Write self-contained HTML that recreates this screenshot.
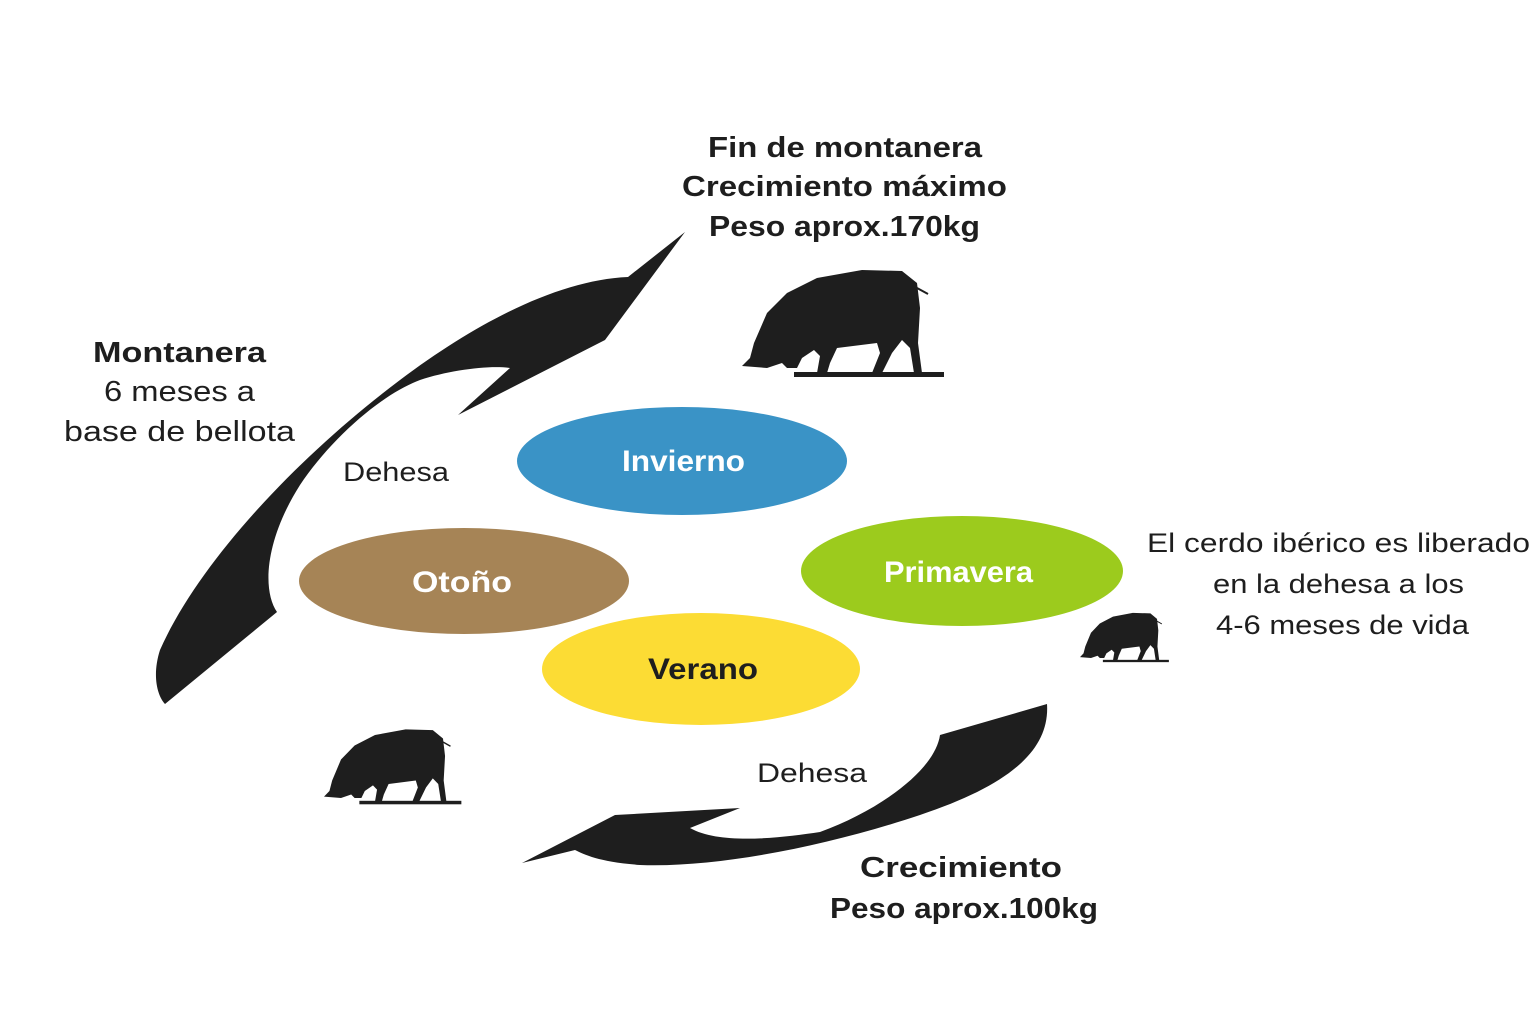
<!DOCTYPE html>
<html><head><meta charset="utf-8"><style>
html,body{margin:0;padding:0;background:#fff;}
svg{display:block;}
text{font-family:"Liberation Sans","DejaVu Sans",sans-serif;fill:#1e1e1e;}
.b{font-weight:bold;}
</style></head><body>
<svg width="1536" height="1024" viewBox="0 0 1536 1024" xmlns="http://www.w3.org/2000/svg">
<defs>
<g id="pig">
<path d="M0,98 L8,90 L12,75 L25,45 L45,25 L75,10 L120,2 L160,3 L175,15 L178,40 L176,75 L180,105 L172,105 L168,80 L160,72 L150,85 L140,105 L130,105 L138,85 L135,75 L95,80 L88,95 L85,105 L75,105 L78,88 L72,82 L60,90 L55,100 L45,100 L40,95 L25,100 Z" fill="#1e1e1e"/>
<rect x="52" y="104" width="150" height="5" fill="#1e1e1e"/>
<path d="M175,20 L186,26" stroke="#1e1e1e" stroke-width="2" fill="none"/>
</g>
</defs>
<path d="M685,232 L628,277 C560,280 480,320 400,380 C300,455 200,560 160,650 C152,675 157,695 165,704 L277,612 C262,590 265,540 300,485 C330,440 380,395 420,380 C450,370 490,365 510,368 L458,415 L605,340 Z" fill="#1e1e1e"/>
<path d="M1047,704 C1050,750 1010,785 920,815 C830,845 720,868 640,865 C600,862 585,855 575,850 L522,863 L615,815 L740,808 L690,828 C720,845 780,838 820,832 C880,810 935,770 940,735 Z" fill="#1e1e1e"/>
<ellipse cx="682" cy="461" rx="165" ry="54" fill="#3a93c6"/>
<ellipse cx="464" cy="581" rx="165" ry="53" fill="#a68456"/>
<ellipse cx="962" cy="571" rx="161" ry="55" fill="#9ccb1d"/>
<ellipse cx="701" cy="669" rx="159" ry="56" fill="#fcdc34"/>
<g lengthAdjust="spacingAndGlyphs">
<text x="622" y="471" textLength="123" lengthAdjust="spacingAndGlyphs" class="b" font-size="30" style="fill:#fff">Invierno</text>
<text x="412" y="592" textLength="100" lengthAdjust="spacingAndGlyphs" class="b" font-size="30" style="fill:#fff">Otoño</text>
<text x="884" y="582" textLength="149" lengthAdjust="spacingAndGlyphs" class="b" font-size="30" style="fill:#fff">Primavera</text>
<text x="648" y="679" textLength="110" lengthAdjust="spacingAndGlyphs" class="b" font-size="30">Verano</text>
</g>
<use href="#pig" transform="translate(742,268)"/>
<use href="#pig" transform="translate(324,728) scale(0.68,0.7)"/>
<use href="#pig" transform="translate(1080,612) scale(0.44,0.46)"/>
<g font-size="29">
<text x="708" y="157" textLength="274" lengthAdjust="spacingAndGlyphs" class="b">Fin de montanera</text>
<text x="682" y="196" textLength="325" lengthAdjust="spacingAndGlyphs" class="b">Crecimiento máximo</text>
<text x="709" y="236" textLength="271" lengthAdjust="spacingAndGlyphs" class="b">Peso aprox.170kg</text>
<text x="93" y="362" textLength="173" lengthAdjust="spacingAndGlyphs" class="b">Montanera</text>
<text x="104" y="401" textLength="151" lengthAdjust="spacingAndGlyphs">6 meses a</text>
<text x="64" y="441" textLength="231" lengthAdjust="spacingAndGlyphs">base de bellota</text>
<text x="343" y="481" textLength="106" lengthAdjust="spacingAndGlyphs" font-size="27">Dehesa</text>
<text x="757" y="782" textLength="110" lengthAdjust="spacingAndGlyphs" font-size="27">Dehesa</text>
<text x="1147" y="552" textLength="383" lengthAdjust="spacingAndGlyphs" font-size="27">El cerdo ibérico es liberado</text>
<text x="1213" y="593" textLength="251" lengthAdjust="spacingAndGlyphs" font-size="27">en la dehesa a los</text>
<text x="1216" y="634" textLength="253" lengthAdjust="spacingAndGlyphs" font-size="27">4-6 meses de vida</text>
<text x="860" y="877" textLength="202" lengthAdjust="spacingAndGlyphs" class="b">Crecimiento</text>
<text x="830" y="918" textLength="268" lengthAdjust="spacingAndGlyphs" class="b">Peso aprox.100kg</text>
</g>
</svg>
</body></html>
